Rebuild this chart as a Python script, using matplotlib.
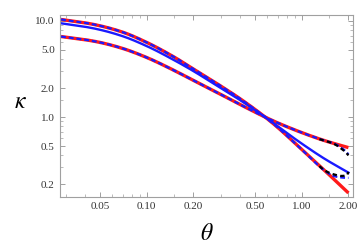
import numpy as np
import matplotlib
matplotlib.use("Agg")
import matplotlib.pyplot as plt
from matplotlib.ticker import FixedLocator, FixedFormatter, NullFormatter

# values
theta = [0.028, 0.04, 0.05, 0.07, 0.1, 0.15, 0.2, 0.3, 0.4, 0.58, 0.7, 1.0, 1.4, 2.0]
kappa_a = [10.3, 9.5, 8.85, 7.6, 5.95, 4.2, 3.15, 2.1, 1.55, 1.0, 0.78, 0.46, 0.28, 0.163]
kappa_b = [6.85, 6.35, 5.95, 5.15, 4.15, 3.05, 2.4, 1.72, 1.35, 1.0, 0.87, 0.69, 0.57, 0.482]
kappa_c = [9.4, 8.65, 8.05, 6.9, 5.45, 3.9, 3.0, 2.0, 1.5, 1.0, 0.8, 0.53, 0.37, 0.265]

# blue dashed solutions: follow the red ones and leave them near the right end
theta_dash = [0.028, 0.04, 0.05, 0.07, 0.1, 0.15, 0.2, 0.3, 0.4, 0.58, 0.7, 1.0, 1.4, 1.6, 1.8, 1.95, 2.0]
kappa_a_blu = kappa_a[:-1] + [0.245, 0.236, 0.234, 0.234]
kappa_b_blu = kappa_b[:-1] + [0.535, 0.48, 0.43, 0.41]

# black dashed solutions, only seen where they leave the others
theta_tail = [1.3, 1.4, 1.6, 1.8, 1.95, 2.0]
kappa_a_blk = [0.31, 0.28, 0.255, 0.245, 0.248, 0.27]
kappa_b_blk = [0.59, 0.57, 0.53, 0.47, 0.42, 0.40]

x_ticks = [0.05, 0.1, 0.2, 0.5, 1.0, 2.0]
x_labels = ["0.05", "0.10", "0.20", "0.50", "1.00", "2.00"]
y_ticks = [0.2, 0.5, 1.0, 2.0, 5.0, 10.0]
y_labels = ["0.2", "0.5", "1.0", "2.0", "5.0", "10.0"]


def smooth(x, y, n=300):
    # cubic hermite (pchip style) through the read values, in log-log space
    lx = np.log10(x)
    ly = np.log10(y)
    h = np.diff(lx)
    d = np.diff(ly) / h
    m = np.zeros_like(lx)
    m[0], m[-1] = d[0], d[-1]
    for i in range(1, len(lx) - 1):
        if d[i - 1] * d[i] <= 0:
            m[i] = 0.0
        else:
            w1 = 2 * h[i] + h[i - 1]
            w2 = h[i] + 2 * h[i - 1]
            m[i] = (w1 + w2) / (w1 / d[i - 1] + w2 / d[i])
    xs = np.linspace(lx[0], lx[-1], n)
    k = np.clip(np.searchsorted(lx, xs) - 1, 0, len(h) - 1)
    t = (xs - lx[k]) / h[k]
    h00 = 2 * t**3 - 3 * t**2 + 1
    h10 = t**3 - 2 * t**2 + t
    h01 = -2 * t**3 + 3 * t**2
    h11 = t**3 - t**2
    ys = h00 * ly[k] + h10 * h[k] * m[k] + h01 * ly[k + 1] + h11 * h[k] * m[k + 1]
    return 10 ** xs, 10 ** ys


plt.rcParams["font.family"] = ["Liberation Serif", "DejaVu Serif"]
plt.rcParams["mathtext.fontset"] = "stix"

fig = plt.figure(figsize=(3.6, 2.47), dpi=100)
ax = fig.add_axes([0.1675, 0.2035, 0.8139, 0.7358])

for k in (kappa_a, kappa_b):
    ax.plot(*smooth(theta, k), color="#ff1a1a", lw=2.4, solid_capstyle="butt")
ax.plot(*smooth(theta, kappa_c), color="#1a1aff", lw=1.7)
for k in (kappa_a_blu, kappa_b_blu):
    ax.plot(*smooth(theta_dash, k), color="#1a1aff", lw=1.6, ls=(0, (2.2, 1.3)))
for k in (kappa_a_blk, kappa_b_blk):
    ax.plot(*smooth(theta_tail, k), color="black", lw=1.6, ls=(0, (2.0, 1.5)))

ax.set_xscale("log")
ax.set_yscale("log")
ax.set_xlim(0.0277, 2.15)
ax.set_ylim(0.149, 11.46)

ax.xaxis.set_major_locator(FixedLocator(x_ticks))
ax.xaxis.set_major_formatter(FixedFormatter(x_labels))
ax.yaxis.set_major_locator(FixedLocator(y_ticks))
ax.yaxis.set_major_formatter(FixedFormatter(y_labels))
minor_x = [0.03, 0.04, 0.06, 0.07, 0.08, 0.09, 0.15, 0.3, 0.4, 0.6, 0.7, 0.8, 0.9, 1.5]
minor_y = [0.3, 0.4, 0.6, 0.7, 0.8, 0.9, 1.5, 3.0, 4.0, 6.0, 7.0, 8.0, 9.0]
ax.xaxis.set_minor_locator(FixedLocator(minor_x))
ax.yaxis.set_minor_locator(FixedLocator(minor_y))
ax.xaxis.set_minor_formatter(NullFormatter())
ax.yaxis.set_minor_formatter(NullFormatter())

for s in ax.spines.values():
    s.set_color("#a0a0a0")
    s.set_linewidth(0.8)
ax.tick_params(which="both", direction="in", top=True, right=True,
               color="#a0a0a0", labelsize=8, labelcolor="#333333", pad=4)
ax.tick_params(which="major", length=3.5, width=0.7)
ax.tick_params(which="minor", length=2, width=0.5)

fig.text(0.575, 0.05, r"$\theta$", fontsize=17, ha="center", va="center")
fig.text(0.058, 0.585, r"$\kappa$", fontsize=17, ha="center", va="center")

fig.savefig("out.png", dpi=100)
